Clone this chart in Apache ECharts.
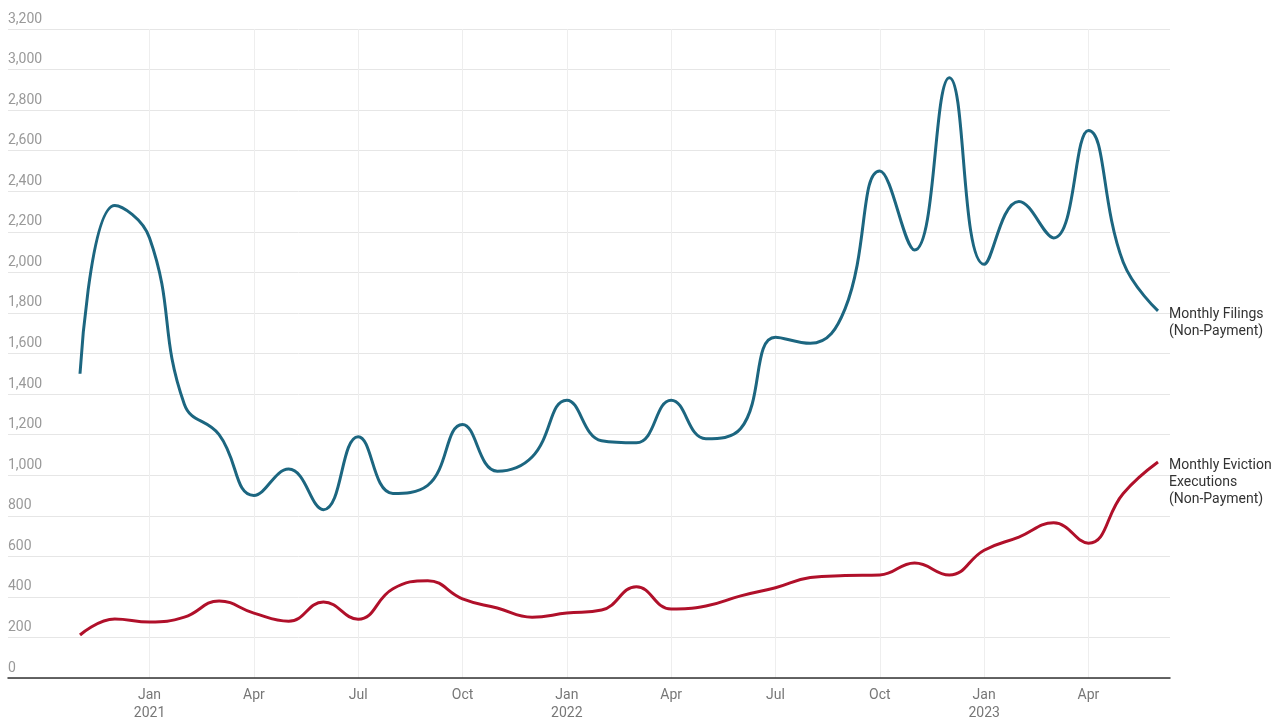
<!DOCTYPE html>
<html>
<head>
<meta charset="utf-8">
<script src="https://cdn.jsdelivr.net/npm/echarts@6/dist/echarts.min.js"></script>
<style>
  html, body { margin: 0; padding: 0; background: #fff; }
  #chart { width: 1278px; height: 718px; }
</style>
</head>
<body>
<div id="chart"></div>
<script>
// months Nov 2020 .. Jun 2023
var months = [
    'Nov 2020','Dec 2020',
    'Jan 2021','Feb 2021','Mar 2021','Apr 2021','May 2021','Jun 2021',
    'Jul 2021','Aug 2021','Sep 2021','Oct 2021','Nov 2021','Dec 2021',
    'Jan 2022','Feb 2022','Mar 2022','Apr 2022','May 2022','Jun 2022',
    'Jul 2022','Aug 2022','Sep 2022','Oct 2022','Nov 2022','Dec 2022',
    'Jan 2023','Feb 2023','Mar 2023','Apr 2023','May 2023','Jun 2023'
];
var filings = [
    1500, 2330,
    2170, 1350, 1200, 900, 1030, 830,
    1190, 910, 950, 1250, 1020, 1090,
    1370, 1170, 1160, 1370, 1180, 1230,
    1680, 1650, 1820, 2500, 2110, 2960,
    2040, 2350, 2170, 2700, 2050, 1810
];
var executions = [
    212, 291,
    276, 300, 380, 320, 280, 375,
    290, 440, 480, 390, 345, 300,
    320, 335, 450, 340, 355, 405,
    445, 495, 505, 508, 567, 508,
    630, 695, 765, 665, 910, 1065
];
var yTicks = [0, 200, 400, 600, 800, 1000, 1200, 1400, 1600, 1800, 2000, 2200, 2400, 2600, 2800, 3000, 3200];

var quarterMonths = ['Jan', 'Apr', 'Jul', 'Oct'];
function isQuarter(idx) {
    return quarterMonths.indexOf(months[idx].split(' ')[0]) >= 0;
}

var option = {
    backgroundColor: '#fff',
    animation: false,
    textStyle: { fontFamily: 'Roboto, sans-serif' },
    grid: [
        { left: 8, right: 108, top: 29, bottom: 40, outerBoundsMode: 'none' },
        { left: 80, right: 120, top: 29, bottom: 40, outerBoundsMode: 'none' }
    ],
    xAxis: [
        {
            gridIndex: 0,
            type: 'value',
            min: 0,
            max: 1,
            axisLine: { show: true, onZero: false, lineStyle: { color: '#333', width: 1.5 } },
            axisTick: { show: false },
            axisLabel: { show: false },
            splitLine: { show: false }
        },
        {
            gridIndex: 1,
            type: 'category',
            boundaryGap: false,
            data: months,
            axisLine: { show: false },
            axisTick: { show: false },
            axisLabel: {
                interval: function (idx) { return isQuarter(idx); },
                color: '#777',
                fontSize: 14,
                lineHeight: 18,
                margin: 8,
                formatter: function (val) {
                    var p = val.split(' ');
                    return p[0] === 'Jan' ? p[0] + '\n' + p[1] : p[0];
                }
            },
            splitLine: {
                show: true,
                interval: function (idx) { return isQuarter(idx); },
                lineStyle: { color: '#eeeeee', width: 1 }
            }
        }
    ],
    yAxis: [
        {
            gridIndex: 0,
            type: 'value',
            min: 0,
            max: 3200,
            interval: 200,
            axisLine: { show: false },
            axisTick: { show: false },
            axisLabel: {
                inside: true,
                margin: 0,
                color: '#999',
                fontSize: 14,
                verticalAlign: 'bottom',
                padding: [0, 0, 3, 0],
                formatter: function (v) { return yTicks.indexOf(v) >= 0 ? v.toLocaleString('en-US') : ''; }
            },
            splitLine: { lineStyle: { color: '#e6e6e6', width: 1 } }
        },
        {
            gridIndex: 1,
            type: 'value',
            min: 0,
            max: 3200,
            show: false,
            splitLine: { show: false }
        }
    ],
    series: [
        {
            name: 'Monthly Filings (Non-Payment)',
            type: 'line',
            xAxisIndex: 1,
            yAxisIndex: 1,
            data: filings,
            smooth: 0.45,
            symbol: 'none',
            lineStyle: { color: '#1c6680', width: 3 },
            endLabel: {
                show: true,
                formatter: 'Monthly Filings\n(Non-Payment)',
                color: '#333',
                fontSize: 14,
                lineHeight: 17,
                distance: 11,
                align: 'left',
                verticalAlign: 'top',
                offset: [0, -5]
            }
        },
        {
            name: 'Monthly Eviction Executions (Non-Payment)',
            type: 'line',
            xAxisIndex: 1,
            yAxisIndex: 1,
            data: executions,
            smooth: 0.45,
            symbol: 'none',
            lineStyle: { color: '#b0102a', width: 3 },
            endLabel: {
                show: true,
                formatter: 'Monthly Eviction\nExecutions\n(Non-Payment)',
                color: '#333',
                fontSize: 14,
                lineHeight: 17,
                distance: 11,
                align: 'left',
                verticalAlign: 'top',
                offset: [0, -5]
            }
        }
    ]
};

var myChart = echarts.init(document.getElementById('chart'));
myChart.setOption(option);
</script>
</body>
</html>
